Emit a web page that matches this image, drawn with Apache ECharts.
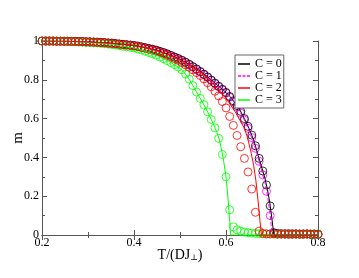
<!DOCTYPE html>
<html><head><meta charset="utf-8">
<script src="https://cdn.jsdelivr.net/npm/echarts@6/dist/echarts.min.js"></script>
<style>html,body{margin:0;padding:0;background:#fff}#c{width:359px;height:278px}</style>
</head><body><div id="c"></div>
<script>
// Temperature grid of the simulated points (circles)
const T = [0.200,0.208,0.216,0.224,0.232,0.240,0.248,0.256,0.264,0.272,0.280,0.288,0.296,0.304,0.312,0.320,0.328,0.336,0.344,0.352,0.360,0.368,0.376,0.384,0.392,0.400,0.408,0.416,0.424,0.432,0.440,0.448,0.456,0.464,0.472,0.480,0.488,0.496,0.504,0.512,0.520,0.528,0.536,0.544,0.552,0.560,0.568,0.576,0.584,0.592,0.600,0.608,0.616,0.624,0.632,0.640,0.648,0.656,0.664,0.672,0.680,0.688,0.696,0.704,0.712,0.720,0.728,0.736,0.744,0.752,0.760,0.768,0.776,0.784,0.792,0.800];
// magnetisation (circles)
const mC0 = [1.000,1.000,1.000,1.000,0.999,0.999,0.999,0.999,0.998,0.998,0.997,0.997,0.996,0.996,0.995,0.994,0.993,0.992,0.990,0.989,0.987,0.985,0.983,0.981,0.979,0.977,0.974,0.970,0.966,0.962,0.958,0.953,0.947,0.941,0.934,0.926,0.918,0.910,0.901,0.891,0.880,0.868,0.856,0.843,0.829,0.815,0.799,0.783,0.767,0.751,0.735,0.714,0.692,0.667,0.637,0.600,0.560,0.515,0.460,0.395,0.330,0.258,0.150,0.012,0.008,0.006,0.005,0.007,0.004,0.006,0.005,0.004,0.005,0.004,0.004,0.003];
const mC1 = [1.000,1.000,1.000,1.000,0.999,0.999,0.999,0.999,0.998,0.998,0.997,0.997,0.996,0.995,0.994,0.993,0.992,0.991,0.989,0.988,0.986,0.984,0.982,0.980,0.978,0.975,0.972,0.968,0.964,0.960,0.956,0.951,0.945,0.939,0.932,0.924,0.916,0.908,0.899,0.889,0.878,0.866,0.853,0.840,0.826,0.812,0.796,0.780,0.764,0.748,0.732,0.710,0.686,0.659,0.628,0.592,0.550,0.502,0.447,0.380,0.310,0.225,0.100,0.010,0.006,0.005,0.007,0.004,0.006,0.005,0.004,0.006,0.005,0.004,0.005,0.004];
const mC2 = [1.000,1.000,1.000,0.999,0.999,0.999,0.998,0.998,0.998,0.997,0.997,0.996,0.995,0.995,0.994,0.993,0.992,0.991,0.989,0.987,0.985,0.983,0.981,0.979,0.977,0.975,0.971,0.967,0.963,0.958,0.953,0.948,0.942,0.935,0.927,0.918,0.909,0.900,0.889,0.877,0.865,0.851,0.837,0.822,0.805,0.785,0.764,0.741,0.717,0.688,0.655,0.611,0.565,0.513,0.455,0.395,0.325,0.237,0.117,0.020,0.008,0.006,0.005,0.007,0.004,0.006,0.005,0.004,0.006,0.005,0.004,0.005,0.006,0.004,0.005,0.004];
const mC3 = [1.000,1.000,0.999,0.999,0.999,0.999,0.999,0.998,0.997,0.996,0.995,0.994,0.993,0.992,0.991,0.990,0.988,0.986,0.984,0.982,0.979,0.976,0.973,0.970,0.967,0.964,0.959,0.954,0.948,0.941,0.934,0.927,0.918,0.909,0.899,0.889,0.878,0.866,0.852,0.830,0.803,0.770,0.737,0.704,0.671,0.635,0.595,0.552,0.498,0.415,0.300,0.130,0.042,0.027,0.020,0.015,0.012,0.010,0.008,0.007,0.006,0.005,0.006,0.004,0.005,0.005,0.004,0.006,0.005,0.004,0.005,0.004,0.005,0.006,0.004,0.005];
// theory curves (lines)
const lineT0 = [0.20,0.25,0.30,0.35,0.40,0.425,0.45,0.475,0.50,0.52,0.54,0.56,0.58,0.60,0.61,0.62,0.63,0.64,0.65,0.66,0.67,0.68,0.685,0.69,0.695,0.70,0.703,0.705,0.80];
const lineM0 = [1.000,0.999,0.996,0.989,0.977,0.966,0.952,0.931,0.906,0.880,0.850,0.815,0.775,0.735,0.710,0.680,0.645,0.600,0.550,0.490,0.410,0.330,0.290,0.235,0.170,0.080,0.020,0,0];
const lineT1 = [0.20,0.25,0.30,0.35,0.40,0.425,0.45,0.475,0.50,0.52,0.54,0.56,0.58,0.60,0.61,0.62,0.63,0.64,0.65,0.66,0.67,0.68,0.685,0.69,0.695,0.698,0.70,0.80];
const lineM1 = [1.000,0.999,0.996,0.988,0.975,0.964,0.950,0.929,0.904,0.878,0.847,0.812,0.772,0.732,0.708,0.673,0.636,0.592,0.538,0.477,0.398,0.310,0.265,0.205,0.125,0.055,0,0];
const lineT2 = [0.20,0.25,0.30,0.35,0.40,0.425,0.45,0.475,0.50,0.52,0.55,0.58,0.60,0.62,0.64,0.645,0.65,0.655,0.66,0.665,0.67,0.674,0.677,0.80];
const lineM2 = [1.000,0.999,0.995,0.988,0.976,0.965,0.950,0.928,0.900,0.875,0.830,0.760,0.705,0.635,0.550,0.515,0.470,0.420,0.360,0.280,0.170,0.070,0,0];
const lineT3 = [0.20,0.25,0.30,0.35,0.40,0.425,0.45,0.475,0.50,0.51,0.52,0.53,0.54,0.55,0.56,0.57,0.58,0.585,0.59,0.595,0.60,0.605,0.608,0.610,0.80];
const lineM3 = [1.000,0.999,0.993,0.983,0.964,0.947,0.925,0.896,0.860,0.835,0.803,0.762,0.720,0.680,0.635,0.585,0.530,0.495,0.445,0.380,0.300,0.170,0.070,0,0];
const names = ['C = 0','C = 1','C = 2','C = 3'];
const colors = ['#000000','#ff00ff','#ff0000','#00ff00'];
const xTicks = [0.2,0.4,0.6,0.8];
const yTicks = [0,0.2,0.4,0.6,0.8,1];

const zip = (a,b) => a.map((v,i) => [v,b[i]]);
const FONT = "'Liberation Serif','DejaVu Serif',serif";
const chart = echarts.init(document.getElementById('c'), null, {renderer:'canvas'});

function pts(i, m) {
  return {type:'scatter', name:names[i]+' sim', data:zip(T,m), symbol:'circle', symbolSize:8,
    itemStyle:{color:'rgba(0,0,0,0)', borderColor:colors[i], borderWidth:1}, silent:true, animation:false};
}
function ln(i, t, m, dashed) {
  return {type:'line', name:names[i], data:zip(t,m), showSymbol:false, symbol:'none', color:colors[i],
    lineStyle:{color:colors[i], width:1, type: dashed ? [4,2] : 'solid'}, silent:true, animation:false};
}
const axisLine = {show:true, lineStyle:{color:'#555', width:1}};
const common = {min:xTicks[0], max:xTicks[xTicks.length-1], interval:0.2};
chart.setOption({
  backgroundColor:'#fff',
  animation:false,
  grid:{left:42, right:41, top:41, bottom:43, outerBoundsMode:'none', containLabel:false},
  legend:{
    data:[{name:'C = 0', icon:'rect'},{name:'C = 1', icon:'path://M0,0h3v1.5h-3zM4.5,0h3v1.5h-3zM9,0h3v1.5h-3z'},{name:'C = 2', icon:'rect'},{name:'C = 3', icon:'rect'}],
    orient:'vertical', left:235, top:55, itemGap:0, itemWidth:12, itemHeight:1.5,
    padding:[3,2,2,3], borderColor:'#666', borderWidth:1, backgroundColor:'#fff', selectedMode:false,
    textStyle:{fontFamily:FONT, fontSize:12, color:'#000', lineHeight:9.6}
  },
  xAxis:[
    Object.assign({type:'value', position:'bottom', axisLine,
      axisTick:{show:true, inside:true, length:5, lineStyle:{color:'#555'}},
      minorTick:{show:true, splitNumber:2, length:3, lineStyle:{color:'#555'}},
      splitLine:{show:false}, minorSplitLine:{show:false},
      axisLabel:{fontFamily:FONT, fontSize:12, color:'#000', margin:2},
      name:'T/(DJ{sub|⊥})', nameLocation:'middle', nameGap:13, nameMoveOverlap:false,
      nameTextStyle:{fontFamily:FONT, fontSize:14, color:'#000', rich:{sub:{fontFamily:FONT, fontSize:8, color:'#000', padding:[6,0,0,0]}}}
    }, common),
    Object.assign({type:'value', position:'top', axisLine,
      axisTick:{show:true, inside:true, length:5, lineStyle:{color:'#555'}},
      minorTick:{show:true, splitNumber:2, length:3, lineStyle:{color:'#555'}},
      splitLine:{show:false}, axisLabel:{show:false}}, common)
  ],
  yAxis:[
    {type:'value', position:'left', min:yTicks[0], max:yTicks[yTicks.length-1], interval:0.2, axisLine,
      axisTick:{show:true, inside:true, length:5, lineStyle:{color:'#555'}},
      minorTick:{show:true, splitNumber:2, length:3, lineStyle:{color:'#555'}},
      splitLine:{show:false},
      axisLabel:{fontFamily:FONT, fontSize:12, color:'#000', margin:3},
      name:'m', nameLocation:'middle', nameGap:16, nameRotate:90, nameMoveOverlap:false,
      nameTextStyle:{fontFamily:FONT, fontSize:15, color:'#000'}},
    {type:'value', position:'right', min:yTicks[0], max:yTicks[yTicks.length-1], interval:0.2, axisLine,
      axisTick:{show:true, inside:true, length:5, lineStyle:{color:'#555'}},
      minorTick:{show:true, splitNumber:2, length:3, lineStyle:{color:'#555'}},
      splitLine:{show:false}, axisLabel:{show:false}}
  ],
  series:[
    pts(1, mC1), pts(0, mC0),
    ln(0, lineT0, lineM0, false), ln(1, lineT1, lineM1, true),
    pts(3, mC3), ln(3, lineT3, lineM3, false),
    pts(2, mC2), ln(2, lineT2, lineM2, false)
  ]
});
</script></body></html>
